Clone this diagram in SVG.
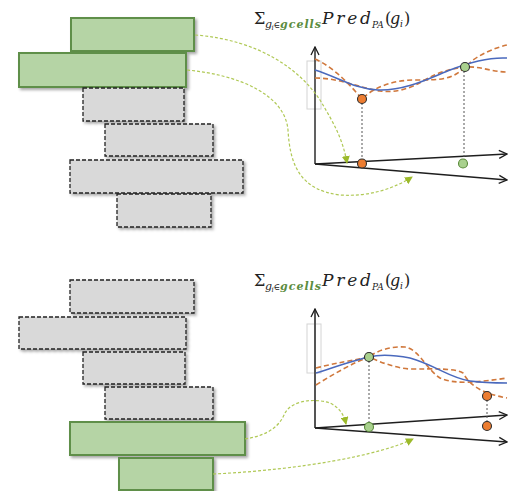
<svg xmlns="http://www.w3.org/2000/svg" width="508" height="491" viewBox="0 0 508 491">
  <style>
    .sel { fill: #b5d4a5; stroke: #5f8f48; stroke-width: 2; filter: url(#shadow); }
    .cell { fill: #d9d9d9; stroke: #222; stroke-width: 1.3; stroke-dasharray: 4 2; filter: url(#shadow); }
    .link { fill: none; stroke: #b0c956; stroke-width: 1.2; stroke-dasharray: 3 2; marker-end: url(#tri); }
    .axis { fill: none; stroke: #1e1e1e; stroke-width: 1.4; marker-end: url(#chev); }
    .frame { fill: none; stroke: #d4d4d4; stroke-width: 1; }
    .mean { fill: none; stroke: #4a69bd; stroke-width: 1.5; }
    .band { fill: none; stroke: #d0783c; stroke-width: 1.6; stroke-dasharray: 5 3; }
    .drop { stroke: #555; stroke-width: 1; stroke-dasharray: 2 2; }
    .dot-o { fill: #ed7d31; stroke: #2e2e2e; stroke-width: 1.1; }
    .dot-g { fill: #a9d18e; stroke: #2e2e2e; stroke-width: 1.1; }
    .dot-ga { fill: #a9d18e; stroke: #5a8a3a; stroke-width: 1.1; }
    .t { font-family: "DejaVu Serif", "Liberation Serif", serif; fill: #222; }
    .it { font-style: italic; }
    .gc { font-style: italic; font-weight: bold; fill: #5b8c3e; }
  </style>
  <defs>
    <filter id="shadow" x="-10%" y="-20%" width="125%" height="150%">
      <feDropShadow dx="2" dy="2" stdDeviation="1.5" flood-color="#000" flood-opacity="0.35"/>
    </filter>
    <marker id="tri" viewBox="0 0 8 8" refX="7" refY="4" markerWidth="8" markerHeight="8" markerUnits="userSpaceOnUse" orient="auto">
      <path d="M0,0 L8,4 L0,8 z" fill="#9cba2a"/>
    </marker>
    <marker id="chev" viewBox="0 0 10 10" refX="9" refY="5" markerWidth="10" markerHeight="10" markerUnits="userSpaceOnUse" orient="auto">
      <path d="M1,1 L9,5 L1,9" fill="none" stroke="#1e1e1e" stroke-width="1.3"/>
    </marker>
    <g id="title">
      <text class="t" font-size="16" x="254" y="23.5">Σ</text>
      <text class="t it" font-size="11" x="265" y="27.5">g</text>
      <text class="t it" font-size="7" x="271.5" y="29.5">i</text>
      <text class="t" font-size="9" x="273.5" y="27.5">∈</text>
      <text class="t gc" font-size="11" x="280" y="27.5" textLength="41" lengthAdjust="spacing">gcells</text>
      <text class="t it" font-size="17" x="322" y="23.5" textLength="49" lengthAdjust="spacing">Pred</text>
      <text class="t it" font-size="9" x="372" y="27.5">PA</text>
      <text class="t" font-size="16" x="385" y="23.5">(</text>
      <text class="t it" font-size="16" x="390" y="23.5">g</text>
      <text class="t it" font-size="9" x="400" y="26.5">i</text>
      <text class="t" font-size="16" x="404" y="23.5">)</text>
    </g>
  </defs>

  <!-- upper stack: two selected gcells on top -->
  <g id="top-sel-1"><rect class="sel" x="71" y="18" width="123" height="33"/></g>
  <g id="top-sel-2"><rect class="sel" x="19" y="53" width="167" height="34"/></g>
  <g id="top-cell-1"><rect class="cell" x="83" y="88" width="101" height="33"/></g>
  <g id="top-cell-2"><rect class="cell" x="105" y="124" width="108" height="32"/></g>
  <g id="top-cell-3"><rect class="cell" x="70" y="160" width="173" height="33"/></g>
  <g id="top-cell-4"><rect class="cell" x="117" y="194" width="94" height="33"/></g>

  <!-- lower stack: two selected gcells at the bottom -->
  <g id="bot-cell-1"><rect class="cell" x="70" y="280" width="124" height="33"/></g>
  <g id="bot-cell-2"><rect class="cell" x="19" y="317" width="167" height="32"/></g>
  <g id="bot-cell-3"><rect class="cell" x="83" y="352" width="102" height="32"/></g>
  <g id="bot-cell-4"><rect class="cell" x="105" y="387" width="108" height="32"/></g>
  <g id="bot-sel-1"><rect class="sel" x="70" y="422" width="175" height="33"/></g>
  <g id="bot-sel-2"><rect class="sel" x="119" y="458" width="94" height="32"/></g>

  <!-- upper plot -->
  <g id="top-plot">
    <use href="#title"/>
    <rect class="frame" x="307" y="61" width="14" height="48"/>
    <path class="axis" d="M315,164 L315,47"/>
    <path class="axis" d="M315,164 L507,154"/>
    <path class="axis" d="M315,164 L507,180"/>
    <path class="band" d="M315,59 C335,68 350,85 362,99 C375,86 395,80 415,80 C440,80 452,80 465,67 C478,54 495,48 507,45"/>
    <path class="band" d="M315,78 C340,78 360,88 380,91 C395,93 410,89 425,80 C440,71 455,68 465,67 C480,66 492,72 507,72"/>
    <path class="mean" d="M315,70 C340,78 355,89 378,90 C405,91 430,78 450,70 C470,62 488,57 507,58"/>
    <line class="drop" x1="362" y1="99" x2="362" y2="164"/>
    <line class="drop" x1="464" y1="67" x2="464" y2="163"/>
    <circle class="dot-o" cx="362" cy="99" r="4.5"/>
    <circle class="dot-g" cx="465" cy="67" r="4.5"/>
    <circle class="dot-o" cx="362" cy="163.5" r="4.5"/>
    <circle class="dot-ga" cx="463" cy="163.5" r="4.5"/>
  </g>

  <!-- lower plot -->
  <g id="bot-plot">
    <use href="#title" transform="translate(0,262)"/>
    <rect class="frame" x="307" y="324" width="14" height="49"/>
    <path class="axis" d="M315,428 L315,309" style="stroke:#555;stroke-width:2"/>
    <path class="axis" d="M315,428 L507,415"/>
    <path class="axis" d="M315,428 L507,442"/>
    <path class="band" d="M316,368 C335,363 355,360 369,357 C378,350 392,346 405,347 C420,350 425,368 440,378 C455,385 480,382 507,378"/>
    <path class="band" d="M316,385 C335,373 355,362 369,357 C380,362 395,368 410,369 C435,369 455,368 463,373 C470,385 480,393 507,398"/>
    <path class="mean" d="M316,373 C335,367 355,360 369,357 C380,354 395,355 410,358 C435,365 450,378 470,381 C485,383 500,383 507,383"/>
    <line class="drop" x1="369" y1="357" x2="369" y2="427"/>
    <line class="drop" x1="487" y1="396" x2="487" y2="426"/>
    <circle class="dot-g" cx="369" cy="357" r="4.5"/>
    <circle class="dot-o" cx="487" cy="396" r="4.5"/>
    <circle class="dot-ga" cx="369" cy="427" r="4.5"/>
    <circle class="dot-o" cx="487" cy="426" r="4.5"/>
  </g>

  <!-- mapping of selected gcells onto the plot axes -->
  <g id="connectors">
    <path class="link" d="M195,35 C260,40 300,70 320,100 C335,125 343,140 347,163"/>
    <path class="link" d="M187,70 C240,75 285,95 288,130 C290,165 300,190 340,195 C370,197 395,188 412,177"/>
    <path class="link" d="M245,439 C270,435 280,425 285,413 C292,400 315,398 330,403 C340,408 344,415 346,424"/>
    <path class="link" d="M213,474 C300,470 380,455 413,439"/>
  </g>
</svg>
